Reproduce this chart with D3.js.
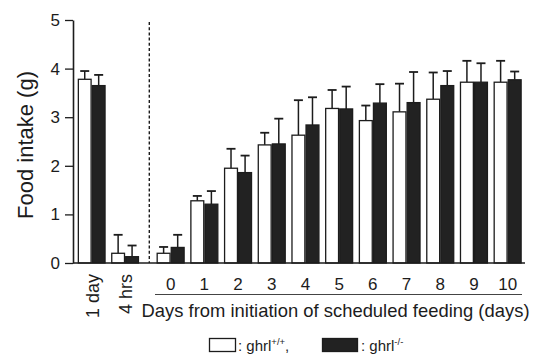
<!DOCTYPE html>
<html>
<head>
<meta charset="utf-8">
<script src="https://cdn.jsdelivr.net/npm/d3@7"></script>
<style>
  html, body { margin: 0; padding: 0; background: #fff; }
  svg { display: block; font-family: "Liberation Sans", Arial, Helvetica, sans-serif; }
</style>
</head>
<body>
<svg id="chart" width="536" height="354"></svg>
<script>
// ---- data ----
const preCategories = ["1 day", "4 hrs"];
const dayCategories = ["0", "1", "2", "3", "4", "5", "6", "7", "8", "9", "10"];
const seriesNames = ["ghrl+/+", "ghrl-/-"];
const wildMean = [3.78, 0.20, 0.20, 1.28, 1.95, 2.43, 2.63, 3.18, 2.93, 3.11, 3.37, 3.72, 3.72];
const wildErr  = [0.17, 0.38, 0.13, 0.10, 0.40, 0.25, 0.72, 0.38, 0.31, 0.58, 0.55, 0.44, 0.44];
const koMean   = [3.65, 0.13, 0.32, 1.21, 1.86, 2.45, 2.84, 3.17, 3.29, 3.30, 3.65, 3.72, 3.77];
const koErr    = [0.22, 0.23, 0.26, 0.27, 0.35, 0.52, 0.57, 0.46, 0.39, 0.63, 0.30, 0.39, 0.17];
const yTicks = [0, 1, 2, 3, 4, 5];
const yTitle = "Food intake (g)";
const xTitle = "Days from initiation of scheduled feeding (days)";

const INK = "#1c1c1c";
const svg = d3.select("#chart");

const y = d3.scaleLinear().domain([0, 5]).range([263, 20]);
const xPre = d3.scaleBand().domain(preCategories).range([75, 141.8]).paddingInner(0.165).paddingOuter(0.0825);
const xDay = d3.scaleBand().domain(dayCategories).range([153.8, 524.5]).paddingInner(0.165).paddingOuter(0.0825);

const allCats = preCategories.concat(dayCategories);
const groups = allCats.map((c, i) => {
  const sc = i < preCategories.length ? xPre : xDay;
  return { cat: c, x0: sc(c), bw: sc.bandwidth(), vals: [
    { s: 0, m: wildMean[i], e: wildErr[i] },
    { s: 1, m: koMean[i], e: koErr[i] }
  ]};
});

const sub = d3.scaleBand().domain([0, 1]).range([0, 1]);

// error bars (drawn first so bars cover base)
const g = svg.append("g");
groups.forEach(gr => {
  const w = gr.bw / 2;
  gr.vals.forEach(v => {
    const cx = gr.x0 + sub(v.s) * gr.bw + w / 2;
    g.append("line").attr("x1", cx).attr("x2", cx)
      .attr("y1", y(v.m)).attr("y2", y(v.m + v.e))
      .attr("stroke", INK).attr("stroke-width", 1.5);
    g.append("line").attr("x1", cx - 4.5).attr("x2", cx + 4.5)
      .attr("y1", y(v.m + v.e)).attr("y2", y(v.m + v.e))
      .attr("stroke", INK).attr("stroke-width", 1.8);
  });
});
groups.forEach(gr => {
  const w = gr.bw / 2;
  gr.vals.forEach(v => {
    g.append("rect")
      .attr("x", gr.x0 + sub(v.s) * gr.bw + 0.6)
      .attr("y", y(v.m))
      .attr("width", w - 1.2)
      .attr("height", y(0) - y(v.m))
      .attr("fill", v.s === 0 ? "#fff" : "#222")
      .attr("stroke", INK).attr("stroke-width", 1.3);
  });
});

// baseline
svg.append("line").attr("x1", 73).attr("x2", 525).attr("y1", y(0)).attr("y2", y(0))
  .attr("stroke", INK).attr("stroke-width", 1.6);

// dashed separator
svg.append("line").attr("x1", 149.3).attr("x2", 149.3).attr("y1", 22).attr("y2", y(0))
  .attr("stroke", INK).attr("stroke-width", 1.4).attr("stroke-dasharray", "3,2.2");

// y axis
const yAxis = svg.append("g").attr("transform", "translate(73,0)")
  .call(d3.axisLeft(y).tickValues(yTicks).tickSize(8).tickSizeOuter(0).tickPadding(5).tickFormat(d3.format("d")));
yAxis.select(".domain").attr("stroke", INK).attr("stroke-width", 1.6);
yAxis.selectAll(".tick line").attr("stroke", INK).attr("stroke-width", 1.3);
yAxis.selectAll("text").attr("font-size", 17).attr("fill", INK)
  .attr("font-family", "Liberation Sans, Arial, sans-serif");

// y title
svg.append("text").attr("transform", "translate(33,145) rotate(-90)")
  .attr("text-anchor", "middle").attr("font-size", 22).attr("fill", INK).text(yTitle);

// day tick labels
const xAxis = svg.append("g").attr("transform", `translate(0,${y(0)})`)
  .call(d3.axisBottom(xDay).tickSize(0).tickPadding(14.5));
xAxis.select(".domain").remove();
xAxis.selectAll("text").attr("font-size", 17).attr("fill", INK)
  .attr("font-family", "Liberation Sans, Arial, sans-serif");

// pre labels rotated
preCategories.forEach(c => {
  const cx = xPre(c) + xPre.bandwidth() / 2;
  svg.append("text")
    .attr("transform", `translate(${cx + 1},274) rotate(-90)`)
    .attr("text-anchor", "end").attr("dy", "0.35em")
    .attr("font-size", 18).attr("fill", INK).text(c);
});

// underline under day numbers
svg.append("line").attr("x1", 155).attr("x2", 522).attr("y1", 294.5).attr("y2", 294.5)
  .attr("stroke", "#444").attr("stroke-width", 1);

// x title
svg.append("text").attr("x", 141.5).attr("y", 316.7)
  .attr("font-size", 18.4).attr("fill", INK).attr("textLength", 388).text(xTitle);

// legend
const leg = svg.append("g");
leg.append("rect").attr("x", 209.5).attr("y", 338.5).attr("width", 26).attr("height", 13)
  .attr("fill", "#fff").attr("stroke", INK).attr("stroke-width", 1.3);
const t1 = leg.append("text").attr("x", 238).attr("y", 351).attr("font-size", 15).attr("fill", INK);
t1.append("tspan").text(": ghrl");
t1.append("tspan").attr("font-size", 9.5).attr("dy", -6).text("+/+");
t1.append("tspan").attr("dy", 6).text(",");
leg.append("rect").attr("x", 322.5).attr("y", 338.5).attr("width", 35).attr("height", 13)
  .attr("fill", "#222").attr("stroke", INK).attr("stroke-width", 1.3);
const t2 = leg.append("text").attr("x", 361).attr("y", 351).attr("font-size", 15).attr("fill", INK);
t2.append("tspan").text(": ghrl");
t2.append("tspan").attr("font-size", 9.5).attr("dy", -6).text("-/-");
</script>
</body>
</html>
